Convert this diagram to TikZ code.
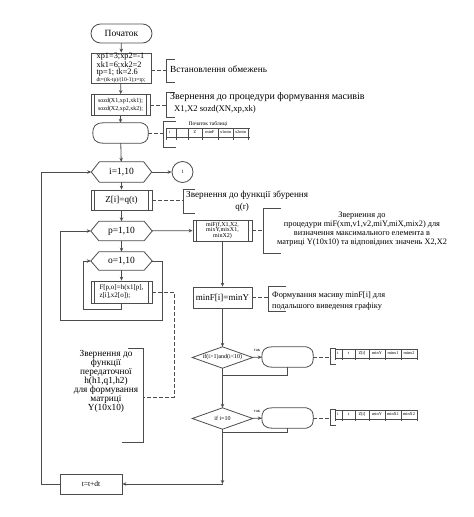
\documentclass[tikz,border=0pt]{standalone}
\usepackage{fontspec}
\setmainfont{Liberation Serif}
\usetikzlibrary{arrows.meta,calc}
\newcommand\fsz[1]{\fontsize{#1}{#1}\selectfont}
\newcommand\hexout[1]{\draw[line] (#1.west) -- ($(#1.north west)+(8,0)$) -- ($(#1.north east)+(-8,0)$) -- (#1.east) -- ($(#1.south east)+(-8,0)$) -- ($(#1.south west)+(8,0)$) -- cycle;}
\newcommand\diaout[1]{\draw[line] (#1.west) -- (#1.north) -- (#1.east) -- (#1.south) -- cycle;}
\newcommand\mypredef[1]{\draw[line] ($(#1.north west)+(4,0)$) -- ($(#1.south west)+(4,0)$) ($(#1.north east)+(-4,0)$) -- ($(#1.south east)+(-4,0)$);}
\newcommand\dispout[1]{\draw[line] ($(#1.north west)+(11,0)$) -- ($(#1.north east)+(-7,0)$) .. controls ($(#1.north east)+(0,2)$) and ($(#1.east)+(0,-5)$) .. (#1.east) .. controls ($(#1.east)+(0,5)$) and ($(#1.south east)+(0,-2)$) .. ($(#1.south east)+(-7,0)$) -- ($(#1.south west)+(11,0)$) .. controls ($(#1.south west)+(2,0)$) and ($(#1.west)+(0,6)$) .. (#1.west) .. controls ($(#1.west)+(0,-6)$) and ($(#1.north west)+(2,0)$) .. ($(#1.north west)+(11,0)$) -- cycle;}
\newcommand\annbr[4]{\draw[line] ({#1+#4},#2) -- (#1,#2) -- (#1,#3) -- ({#1+#4},#3);}
\begin{document}
\begin{tikzpicture}[x=1pt,y=-1pt,
  line/.style={draw=black!70, line width=0.8pt},
  arr/.style={line, -{Stealth[length=4pt,width=3.5pt]}},
  dashln/.style={line, dash pattern=on 3.5pt off 2.5pt},
  box/.style={line, rectangle, inner sep=0pt, align=center},
  ghost/.style={rectangle, inner sep=0pt, align=center},
  tab/.style={inner sep=0pt, font=\fsz{4.3}},
  ann/.style={inner sep=0pt, anchor=west}]
\useasboundingbox (0,0) rectangle (474,517);

% main column
\node[box, rounded corners=9.5pt, minimum width=61pt, minimum height=19pt, font=\fsz{9.5}] (start) at (121.5,33.5) {Початок};
\node[box, minimum width=60pt, minimum height=30pt, align=left, font=\fontsize{8.3}{7.3}\selectfont] (b1) at (121,68) {xp1=3;xp2=-1\\ xk1=6;xk2=2\\ tp=1; tk=2.6\\ {\fsz{5.5}dt=(tk-tp)/(10-1);t=tp;}};
\node[box, minimum width=59pt, minimum height=21pt, font=\fontsize{6}{7.5}\selectfont] (b2) at (120.5,105) {sozd(X1,xp1,xk1);\\sozd(X2,xp2,xk2);};
\mypredef{b2}
\node[ghost, minimum width=55pt, minimum height=20pt] (disp1) at (120.5,133) {};
\dispout{disp1}
\node[ghost, minimum width=60pt, minimum height=20pt, font=\fsz{9.5}] (ihex) at (121.5,172) {i=1,10};
\hexout{ihex}
\node[line, circle, minimum size=21pt, inner sep=0pt, font=\fsz{5}] (circ) at (182.5,172) {1};
\node[box, minimum width=61pt, minimum height=20pt, font=\fsz{9}] (zbox) at (121.5,200) {Z[i]=q(t)};
\mypredef{zbox}
\node[ghost, minimum width=61pt, minimum height=19pt, font=\fsz{9.5}] (phex) at (121.5,231) {p=1,10};
\hexout{phex}
\node[ghost, minimum width=61pt, minimum height=18pt, font=\fsz{9.5}] (ohex) at (121.5,261) {o=1,10};
\hexout{ohex}
\node[box, minimum width=61pt, minimum height=22pt, align=left, font=\fontsize{7}{8}\selectfont] (fbox) at (121.5,292) {F[p,o]=h(x1[p],\\z[i],x2[o]);};
\mypredef{fbox}
\node[box, minimum width=59pt, minimum height=21pt, font=\fontsize{6}{5.3}\selectfont] (mif) at (222.5,230.5) {miF(f,X1,X2,\\mixY,mixX1,\\minX2)};
\mypredef{mif}
\node[box, minimum width=59pt, minimum height=21pt, font=\fsz{9}] (minf) at (222.5,297.5) {minF[i]=minY};
\node[ghost, minimum width=60pt, minimum height=21pt, font=\fsz{6}] (d1) at (222.5,357.5) {if(i>1)and(i<10)};
\diaout{d1}
\node[ghost, minimum width=51pt, minimum height=20pt] (disp2) at (287.5,357) {};
\dispout{disp2}
\node[ghost, minimum width=60pt, minimum height=21pt, font=\fsz{6}] (d2) at (222.5,418.5) {if i=10};
\diaout{d2}
\node[ghost, minimum width=51pt, minimum height=20pt] (disp3) at (287.5,418) {};
\dispout{disp3}
\node[box, minimum width=62pt, minimum height=20pt, font=\fsz{7.5}] (tbox) at (91,484) {t=t+dt};

% connectors
\draw[arr] (start) -- (b1);
\draw[arr] (b1) -- (b2);
\draw[arr] (b2) -- (disp1);
\draw[arr] (disp1) -- (ihex);
\draw[arr] (ihex) -- (circ);
\draw[arr] (ihex) -- (zbox);
\draw[arr] (zbox) -- (phex);
\draw[arr] (phex) -- (mif);
\draw[arr] (phex) -- (ohex);
\draw[arr] (ohex) -- (fbox);
\coordinate (l1a) at (83,309);
\draw[arr] (fbox.south) |- (l1a) |- (ohex.west);
\coordinate (l2a) at (162,320);
\coordinate (l2b) at (60,320);
\draw[arr] (ohex.east) -| (l2a) -- (l2b) |- (phex.west);
\draw[arr] (mif) -- (minf);
\draw[arr] (minf) -- (d1);
\draw[arr] (d1) -- (disp2);
\coordinate (j1) at (222.5,375);
\draw[line] (disp2.south) |- (j1);
\draw[arr] (d1) -- (d2);
\draw[arr] (d2) -- (disp3);
\coordinate (j2) at (222.5,432);
\draw[line] (disp3.south) |- (j2);
\coordinate (c5) at (222.5,484);
\draw[arr] (d2.south) -- (c5);
\draw[arr] (c5) -- (tbox.east);
\coordinate (l3) at (41,484);
\draw[arr] (tbox.west) -- (l3) |- (ihex.west);
\node[inner sep=0pt, font=\fsz{4.5}] (yes1) at (257,350) {так};
\node[inner sep=0pt, font=\fsz{4.5}] (yes2) at (257,411) {так};

% annotations
\coordinate (br1) at (166,70);
\annbr{166}{59}{82}{9}
\draw[dashln] (b1.east |- br1) -- (br1);
\node[ann, font=\fsz{9.3}] (t1) at (170,69.5) {Встановлення обмежень};

\coordinate (br2) at (166,105);
\annbr{166}{92}{117}{9}
\draw[dashln] (b2.east) -- (br2);
\node[ann, font=\fsz{10}] (t2a) at (170,97.5) {Звернення до процедури формування масивів};
\node[ann, font=\fsz{8.7}] (t2b) at (174,109.5) {X1,X2 sozd(XN,xp,xk)};

\coordinate (br3) at (163,133);
\annbr{163}{121}{147}{13}
\draw[dashln] (disp1.east) -- (br3);
\node[inner sep=0pt, font=\fsz{5.5}] (t3) at (208,124) {Початок таблиці};
\draw[line, line width=0.5pt] (166,128.5) -- (250,128.5) (166,137) -- (250,137);
\foreach \xx in {166,176,188,202,218,233,248} \draw[line, line width=0.5pt] (\xx,128.5) -- (\xx,140);
\node[tab] at (170,132) {i};
\node[tab] at (195,132.5) {Z};
\node[tab] at (210,132.5) {minF};
\node[tab] at (225.5,132.5) {x1min};
\node[tab] at (240.5,132.5) {x2min};

\coordinate (brz) at (183,200);
\annbr{183}{189}{213}{12}
\draw[dashln] (zbox.east) -- (brz);
\node[ann, font=\fsz{9.2}] (tz1) at (186,195) {Звернення до функції збурення};
\node[inner sep=0pt, font=\fsz{9}] (tz2) at (242,207) {q(r)};

\coordinate (brm) at (263,230.5);
\annbr{263}{208}{253}{18}
\draw[dashln] (mif.east) -- (brm);
\node[inner sep=0pt, align=center, font=\fontsize{8.3}{9}\selectfont] (tm) at (362,229) {Звернення до\\процедури miF(xm,v1,v2,miY,miX,mix2) для\\визначення максимального елемента в\\матриці Y(10x10) та відповідних значень X2,X2};

\coordinate (brf) at (268,297.5);
\annbr{268}{286}{311}{18}
\draw[dashln] (minf.east) -- (brf);
\node[ann, font=\fsz{8.3}] (tf1) at (272,296) {Формування масиву minF[i] для};
\node[ann, font=\fsz{8.3}] (tf2) at (272,307) {подальшого виведення графіку};

\coordinate (hk) at (174,397);
\coordinate (hb) at (143,397);
\draw[dashln] (fbox.east) -- (fbox.east -| hk) -- (hk) -- (hb);
\draw[line] (128,348) -- (143,348) -- (143,442) -- (122,442);
\node[inner sep=0pt, align=center, font=\fontsize{9.3}{8.9}\selectfont] (th) at (106,381.5) {Звернення до\\функції\\передаточної\\h(h1,q1,h2)\\для формування\\матриці\\Y(10x10)};

% output tables
\foreach \yo/\la/\lb in {0/minx1/minx2, 61/minX1/minX2}{
  \begin{scope}[yshift=-\yo pt]
  \annbr{330}{348}{364}{6}
  \draw[line, line width=0.5pt] (335,349) -- (417,349) (335,358) -- (417,358);
  \foreach \xx in {335,342,355,369,385,401,417} \draw[line, line width=0.5pt] (\xx,349) -- (\xx,360);
  \node[tab] at (338,353) {i};
  \node[tab] at (348.5,353.5) {t};
  \node[tab] at (362,353.5) {Z[i]};
  \node[tab] at (377,353.5) {minY};
  \node[tab] at (393,353.5) {\la};
  \node[tab] at (409,353.5) {\lb};
  \end{scope}
}
\coordinate (brt2) at (330,357);
\coordinate (brt3) at (330,418);
\draw[dashln] (disp2.east) -- (brt2);
\draw[dashln] (disp3.east) -- (brt3);
\end{tikzpicture}
\end{document}
